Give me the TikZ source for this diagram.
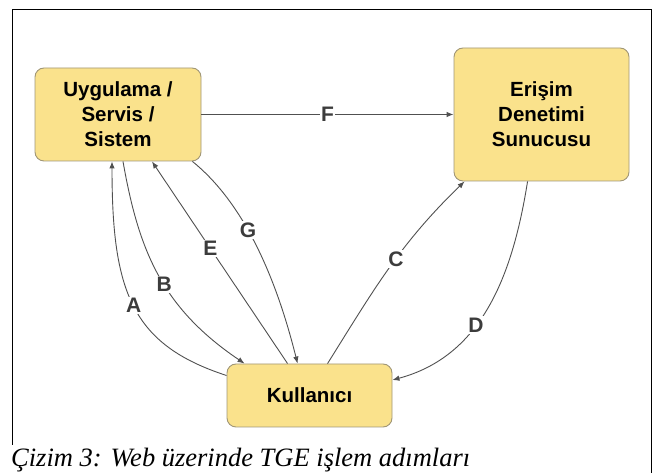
\documentclass[tikz,border=0pt]{standalone}
\usepackage{fontspec}
\setmainfont{Liberation Serif}
\newfontfamily\boxfont{Liberation Sans}
\usetikzlibrary{arrows.meta,calc}
\definecolor{boxfill}{RGB}{250,226,140}
\definecolor{boxdraw}{RGB}{160,150,118}
\definecolor{linec}{RGB}{80,80,80}
\definecolor{lblc}{RGB}{60,60,60}
\begin{document}
\begin{tikzpicture}[x=1pt,y=1pt,
  box/.style={draw=boxdraw, fill=boxfill, rounded corners=9pt, line width=0.9pt,
    align=center, inner sep=0pt, font=\boxfont\bfseries\fontsize{20.5}{25}\selectfont},
  conn/.style={draw=linec, line width=0.9pt, -{Latex[length=7pt,width=5.5pt]}},
  lbl/.style={fill=white, inner sep=1.5pt, text=lblc, font=\boxfont\bfseries\fontsize{21}{21}\selectfont}]
\useasboundingbox (0,0) rectangle (653,473);
\draw[line width=1pt] (12,28) -- (12,463.5) -- (651,463.5) -- (651,0);
\node[box, minimum width=166pt, minimum height=93pt] (U) at (118,358.5) {Uygulama /\\Servis /\\Sistem};
\node[box, minimum width=175pt, minimum height=133pt] (E) at (541.5,358.5) {Erişim\\Denetimi\\Sunucusu};
\node[box, minimum width=165pt, minimum height=63pt] (K) at (309.5,77.5) {Kullanıcı};
% F
\draw[conn] (U.east) -- (E.west) node[lbl,pos=0.5] {F};
% A
\draw[conn] ([yshift=20pt]K.west) .. controls +(162:100) and +(-90:130) .. ([xshift=-6pt]U.south) node[lbl,pos=0.5] {A};
% B
\draw[conn] ([xshift=5pt]U.south) .. controls +(-80:90) and +(146:100) .. ([xshift=18pt]K.north west) node[lbl,pos=0.55] {B};
% E
\draw[conn] ([xshift=61pt]K.north west) -- ([xshift=34pt]U.south) node[lbl,pos=0.57] {E};
% G
\draw[conn] ([xshift=-9pt]U.south east) .. controls +(-39:60) and +(104:100) .. ([xshift=71pt]K.north west) node[lbl,pos=0.45] {G};
% C
\draw[conn] ([xshift=101pt]K.north west) to[out=58,in=224] node[lbl,pos=0.55] {C} ([xshift=11pt]E.south west);
% D
\draw[conn] ([xshift=74pt]E.south west) .. controls +(-99:100) and +(15:90) .. ([yshift=15.5pt]K.east) node[lbl,pos=0.58] {D};
\node[anchor=base west, inner sep=0pt, font=\itshape\fontsize{26.5}{26.5}\selectfont] (cap) at (11,6) {Çizim 3: Web üzerinde TGE işlem adımları};
\end{tikzpicture}
\end{document}
